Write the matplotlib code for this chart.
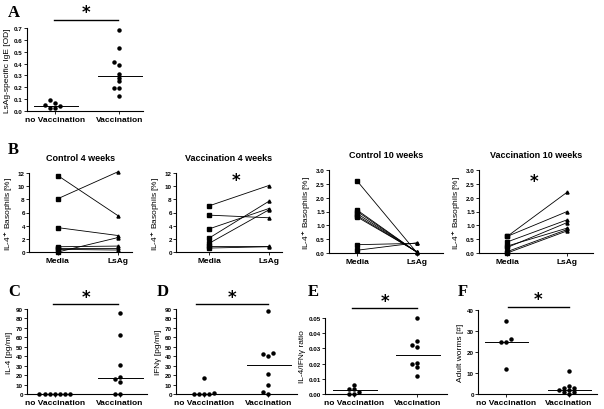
import numpy as np
import matplotlib
matplotlib.use('Agg')
import matplotlib.pyplot as plt

plt.rcParams['font.family'] = ['Liberation Sans', 'DejaVu Sans']
plt.rcParams['font.weight'] = 'bold'

W, H = 604, 410

groups = ['no Vaccination', 'Vaccination']
conds = ['Media', 'LsAg']

# A: LsAg-specific IgE [OD]
ige_novac = [0.065, 0.043, 0.026, 0.026, 0.09, 0.048]
ige_vac = [0.68, 0.53, 0.41, 0.39, 0.31, 0.28, 0.25, 0.19, 0.19, 0.13]

# B: IL-4+ basophils [%], Media -> LsAg per animal
c4_media = [11.6, 8.1, 3.7, 0.8, 0.6, 0.4, 0.0]
c4_lsag = [5.5, 12.2, 2.5, 0.9, 0.6, 0.3, 2.2]
v4_media = [7.0, 5.6, 3.5, 2.1, 1.3, 0.9, 0.6]
v4_lsag = [10.1, 5.2, 6.6, 7.7, 6.4, 0.9, 0.8]
c10_media = [2.6, 1.55, 1.5, 1.42, 1.35, 1.3, 0.3, 0.1]
c10_lsag = [0.0, 0.02, 0.02, 0.03, 0.03, 0.04, 0.35, 0.37]
v10_media = [0.6, 0.6, 0.4, 0.2, 0.25, 0.05, 0.0]
v10_lsag = [2.2, 1.5, 1.2, 1.1, 0.9, 0.85, 0.8]

# C-F
il4_novac = [0, 0, 0, 0, 0, 0, 0]
il4_vac = [86, 62, 31, 18, 16, 13, 0, 0]
ifn_novac = [1.5, 17, 0, 0, 0, 0.5]
ifn_vac = [87.5, 42.7, 40.6, 43.8, 20.8, 9.9, 2.5, 0]
ratio_novac = [0.0035, 0.0035, 0.006, 0.0015, 0.0, 0.0]
ratio_vac = [0.050, 0.035, 0.031, 0.032, 0.0197, 0.0206, 0.0178, 0.012]
worms_novac = [35, 25, 25, 26, 12]
worms_vac = [11, 4, 3, 3, 2, 2, 1, 1, 0]

fig = plt.figure(figsize=(W / 100, H / 100), dpi=100)


def px_axes(l, r, t, b):
    return fig.add_axes([l / W, 1 - b / H, (r - l) / W, (b - t) / H])


def style(ax, ymax, ystep, fmt, xlim):
    ax.set_ylim(0, ymax)
    ax.set_xlim(*xlim)
    ax.set_yticks(np.arange(0, ymax + ystep / 2, ystep))
    ax.set_yticklabels([fmt.format(v) for v in np.arange(0, ymax + ystep / 2, ystep)])
    for s in ['top', 'right']:
        ax.spines[s].set_visible(False)
    for s in ['left', 'bottom']:
        ax.spines[s].set_linewidth(0.8)
    ax.tick_params(axis='y', labelsize=4.5, length=2, width=0.6, pad=1)
    ax.tick_params(axis='x', labelsize=6, length=2, width=0.6, pad=1.5)


def swarm(values, px_per_unit, step=0.08, tol=3.2):
    # spread points sideways when they would overlap (column scatter)
    xs = np.zeros(len(values))
    placed = []
    for i in np.argsort(values, kind='stable'):
        y = values[i] * px_per_unit
        used = {k for yy, k in placed if abs(yy - y) < tol}
        for k in [0, -1, 1, -2, 2, -3, 3, -4, 4, -5, 5]:
            if k not in used:
                break
        xs[i] = k * step
        placed.append((y, k))
    return xs


def dots(ax, a, b, ylabel, ymax, ystep, fmt, xlim, px_h, med_a=True):
    style(ax, ymax, ystep, fmt, xlim)
    for pos, vals in enumerate([a, b]):
        vals = np.array(vals, dtype=float)
        xs = pos + swarm(vals, px_h / ymax)
        ax.plot(xs, vals, 'o', color='black', ms=2.2, clip_on=False, zorder=3)
        if pos == 1 or med_a:
            m = np.median(vals)
            ax.plot([pos - 0.33, pos + 0.36], [m, m], color='black', lw=0.7, clip_on=False)
    ax.set_xticks([0, 1])
    ax.set_xticklabels(groups)
    ax.set_ylabel(ylabel, fontsize=6, labelpad=2)


def star_bar(ax, x0, x1, y, ymax):
    ax.plot([x0, x1], [y, y], color='black', lw=1.0, clip_on=False)
    ax.text((x0 + x1) / 2, y - ymax * 0.02, '*', fontsize=12, ha='center', va='bottom',
            fontweight='bold', family='DejaVu Sans')


def pairs(ax, m, l, title, ymax, ystep, fmt, xlim, star=None):
    style(ax, ymax, ystep, fmt, xlim)
    for a, b in zip(m, l):
        ax.plot([0, 1], [a, b], color='black', lw=0.6, clip_on=False)
    ax.plot(np.zeros(len(m)), m, 's', color='black', ms=2.2, clip_on=False, zorder=3)
    ax.plot(np.ones(len(l)), l, '^', color='black', ms=2.2, clip_on=False, zorder=3)
    ax.set_xticks([0, 1])
    ax.set_xticklabels(conds)
    ax.set_ylabel('IL-4$^{+}$ Basophils [%]', fontsize=6, labelpad=2)
    ax.set_title(title, fontsize=6.5, fontweight='bold', pad=9)
    if star is not None:
        ax.text(0.45, star, '*', fontsize=12, ha='center', va='center',
                fontweight='bold', family='DejaVu Sans')


# A
axA = px_axes(27, 143, 29, 112)
dots(axA, ige_novac, ige_vac, 'LsAg-specific IgE [OD]', 0.7, 0.1, '{:.1f}', (-0.44, 1.37), 83)
star_bar(axA, -0.02, 0.98, 0.7 + 0.7 * 0.1, 0.7)

# B
axB1 = px_axes(29, 132, 174, 253)
pairs(axB1, c4_media, c4_lsag, 'Control 4 weeks', 12, 2, '{:.0f}', (-0.48, 1.23))
axB2 = px_axes(176, 282, 174, 253)
pairs(axB2, v4_media, v4_lsag, 'Vaccination 4 weeks', 12, 2, '{:.0f}', (-0.55, 1.22), star=11)
axB3 = px_axes(329, 443, 171, 254)
pairs(axB3, c10_media, c10_lsag, 'Control 10 weeks', 3.0, 0.5, '{:.1f}', (-0.47, 1.43))
axB4 = px_axes(479, 593, 171, 254)
pairs(axB4, v10_media, v10_lsag, 'Vaccination 10 weeks', 3.0, 0.5, '{:.1f}', (-0.47, 1.43), star=2.6)

# C-F
axC = px_axes(27, 147, 310, 395)
dots(axC, il4_novac, il4_vac, 'IL-4 [pg/ml]', 90, 10, '{:.0f}', (-0.43, 1.42), 85, med_a=False)
star_bar(axC, -0.03, 0.98, 90 + 90 * 0.06, 90)
axD = px_axes(176, 297, 310, 395)
dots(axD, ifn_novac, ifn_vac, 'IFN\u03b3 [pg/ml]', 90, 10, '{:.0f}', (-0.44, 1.45), 85, med_a=False)
star_bar(axD, -0.13, 1.0, 90 + 90 * 0.06, 90)
axE = px_axes(325, 447, 319, 395)
dots(axE, ratio_novac, ratio_vac, 'IL-4/IFN\u03b3 ratio', 0.05, 0.01, '{:.2f}', (-0.46, 1.47), 76)
star_bar(axE, -0.03, 1.0, 0.05 + 0.05 * 0.13, 0.05)
axF = px_axes(478, 597, 311, 395)
dots(axF, worms_novac, worms_vac, 'Adult worms [#]', 40, 10, '{:.0f}', (-0.44, 1.45), 84)
star_bar(axF, 0.03, 1.0, 40 + 40 * 0.04, 40)

# panel letters
for letter, x, y in [('A', 8, 13), ('B', 8, 150), ('C', 8, 292), ('D', 157, 292),
                     ('E', 308, 292), ('F', 458, 292)]:
    fig.text(x / W, 1 - y / H, letter, fontsize=12, fontweight='bold',
             family='Liberation Serif', ha='left', va='center')

fig.savefig('out.png', dpi=100)
